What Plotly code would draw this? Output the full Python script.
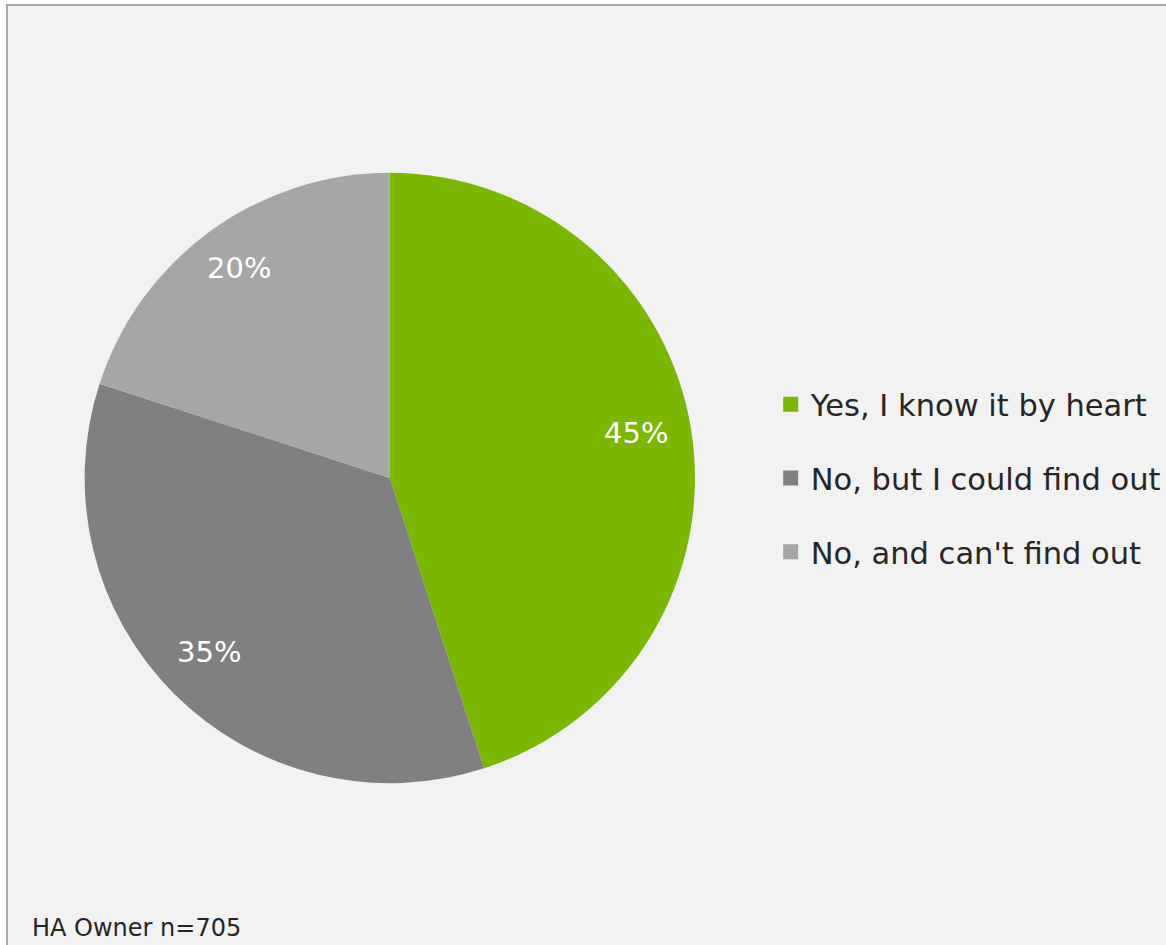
import math
import plotly.graph_objects as go

categories = ["Yes, I know it by heart", "No, but I could find out", "No, and can't find out"]
values = [45, 35, 20]
colors = ["#7AB800", "#808080", "#A6A6A6"]
footnote = "HA Owner n=705"

W, H = 1166, 945
FONT = "DejaVu Sans"
CX, CY, R = 389, 478, 305  # pie centre / radius in pixels

fig = go.Figure()

DX, DR = 2.5, 1.5  # small empirical correction of plotly's pie placement
fig.add_trace(go.Pie(
    labels=categories,
    values=values,
    marker=dict(colors=colors, line=dict(width=0)),
    sort=False,
    direction="clockwise",
    rotation=0,
    textinfo="none",
    showlegend=False,
    hoverinfo="label+percent",
    domain=dict(x=[(CX + DX - R - DR) / W, (CX + DX + R + DR) / W],
                y=[1 - (CY + R + DR) / H, 1 - (CY - R - DR) / H]),
))

# legend entries
for i, (cat, col) in enumerate(zip(categories, colors)):
    fig.add_trace(go.Scatter(
        x=[None], y=[None], mode="markers",
        marker=dict(symbol="square", size=15, color=col),
        name=cat, legendgroup=f"g{i}", showlegend=True,
    ))

# percentage labels placed along each slice bisector
total = sum(values)
annotations = []
cum = 0
for v in values:
    theta = 2 * math.pi * (cum + v / 2) / total
    cum += v
    px = CX + 0.83 * R * math.sin(theta)
    py = CY - 0.83 * R * math.cos(theta) - 5
    annotations.append(dict(
        text=f"{round(100 * v / total)}%", xref="paper", yref="paper",
        x=px / W, y=1 - py / H, xanchor="center", yanchor="middle",
        showarrow=False, font=dict(family=FONT, size=29, color="white"),
    ))

annotations.append(dict(
    text=footnote, xref="paper", yref="paper",
    x=30 / W, xanchor="left", y=1 - 928 / H, yanchor="middle",
    showarrow=False, font=dict(family=FONT, size=24, color="#262626"),
))

fig.update_layout(
    width=W, height=H,
    margin=dict(l=0, r=0, t=0, b=0),
    paper_bgcolor="white",
    plot_bgcolor="rgba(0,0,0,0)",
    font=dict(family=FONT, color="#262626"),
    xaxis=dict(visible=False),
    yaxis=dict(visible=False),
    legend=dict(
        x=774 / W, xanchor="left",
        y=1 - 478 / H, yanchor="middle",
        font=dict(family=FONT, size=30.5, color="#262626"),
        tracegroupgap=31,
        bgcolor="rgba(0,0,0,0)",
        itemclick=False, itemdoubleclick=False,
    ),
    shapes=[dict(
        type="rect", xref="paper", yref="paper",
        x0=7 / W, x1=1.02, y0=-0.02, y1=1 - 5 / H,
        line=dict(color="#A6A6A6", width=2),
        fillcolor="#F2F2F2", layer="below",
    )],
    annotations=annotations,
)

fig.write_html("out.html", config={"displayModeBar": False},
               post_script="document.body.style.margin='0';")
